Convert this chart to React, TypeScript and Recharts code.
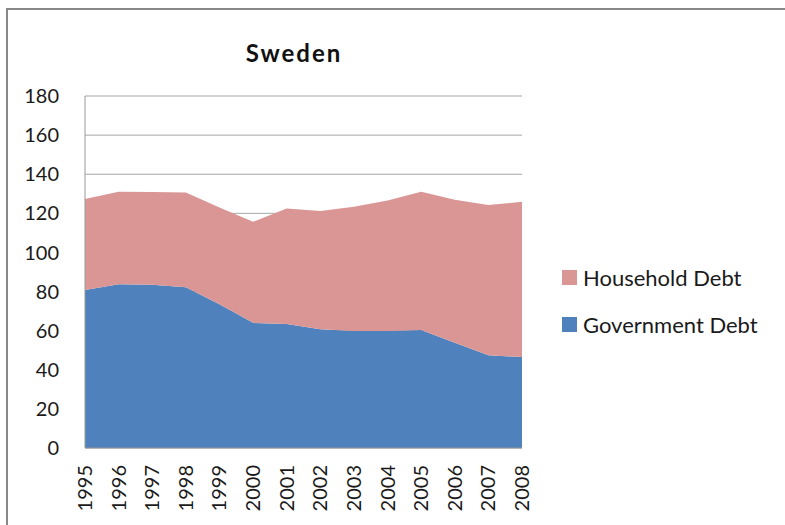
import { AreaChart, Area, XAxis, YAxis, CartesianGrid } from 'recharts'

const YEARS = ['1995', '1996', '1997', '1998', '1999', '2000', '2001', '2002', '2003', '2004', '2005', '2006', '2007', '2008']
const GOVERNMENT_DEBT = [80.8, 83.7, 83.5, 82.2, 73.5, 64.0, 63.4, 60.7, 59.8, 59.8, 60.3, 53.8, 47.4, 46.5]
const HOUSEHOLD_DEBT = [46.5, 47.3, 47.4, 48.5, 49.5, 51.7, 59.1, 60.5, 63.6, 66.7, 70.7, 73.2, 76.8, 79.4]
const Y_TICKS = [0, 20, 40, 60, 80, 100, 120, 140, 160, 180]

const SERIES = [
  { key: 'household', name: 'Household Debt', color: '#D99694' },
  { key: 'government', name: 'Government Debt', color: '#4F81BD' },
]

const FONT = 'Lato, "Open Sans", sans-serif'

const data = YEARS.map((year, i) => ({
  year,
  government: GOVERNMENT_DEBT[i],
  household: HOUSEHOLD_DEBT[i],
}))

// rotated year labels, read bottom to top
function YearTick(props: any) {
  const { x, y, payload } = props
  return (
    <text
      x={x}
      y={y}
      transform={`rotate(-90, ${x}, ${y})`}
      textAnchor="end"
      dy="0.35em"
      fontSize={20}
      fontFamily={FONT}
      fill="#1a1a1a"
    >
      {payload.value}
    </text>
  )
}

export default function App() {
  return (
    <div
      style={{
        position: 'absolute',
        left: 0,
        top: 0,
        width: 785,
        height: 525,
        background: '#fff',
        overflow: 'hidden',
        fontFamily: FONT,
      }}
    >
      {/* chart frame, only left/top edges are visible in the crop */}
      <div
        style={{
          position: 'absolute',
          left: 6,
          top: 8,
          width: 800,
          height: 540,
          borderLeft: '2px solid #888',
          borderTop: '2px solid #888',
        }}
      />
      <div
        style={{
          position: 'absolute',
          left: 194,
          top: 38,
          width: 200,
          textAlign: 'center',
          fontSize: 24,
          fontWeight: 700,
          letterSpacing: 2,
          color: '#111',
        }}
      >
        Sweden
      </div>

      <div style={{ position: 'absolute', left: 0, top: 0 }}>
        <AreaChart
          width={785}
          height={525}
          data={data}
          margin={{ top: 96, right: 263, left: 0, bottom: 0 }}
        >
          <CartesianGrid vertical={false} stroke="#a6a6a6" strokeWidth={1} />
          <XAxis
            dataKey="year"
            height={77}
            tickLine={false}
            tickMargin={11}
            axisLine={{ stroke: '#999' }}
            tick={<YearTick />}
            interval={0}
          />
          <YAxis
            width={85}
            domain={[0, 180]}
            ticks={Y_TICKS}
            tickLine={false}
            tickMargin={20}
            axisLine={{ stroke: '#999' }}
            tick={{ fontSize: 20, fontFamily: FONT, fill: '#1a1a1a' }}
          />
          <Area
            type="linear"
            dataKey="government"
            name="Government Debt"
            stackId="debt"
            stroke="none"
            fill="#4F81BD"
            fillOpacity={1}
            isAnimationActive={false}
          />
          <Area
            type="linear"
            dataKey="household"
            name="Household Debt"
            stackId="debt"
            stroke="none"
            fill="#D99694"
            fillOpacity={1}
            isAnimationActive={false}
          />
        </AreaChart>
      </div>

      {/* legend */}
      <div style={{ position: 'absolute', left: 562, top: 264 }}>
        {SERIES.map((s) => (
          <div
            key={s.key}
            style={{ display: 'flex', alignItems: 'center', height: 27, marginBottom: 19.5 }}
          >
            <span style={{ width: 15, height: 15, background: s.color, display: 'inline-block', marginRight: 6 }} />
            <span style={{ fontSize: 22, color: '#1a1a1a' }}>{s.name}</span>
          </div>
        ))}
      </div>
    </div>
  )
}
